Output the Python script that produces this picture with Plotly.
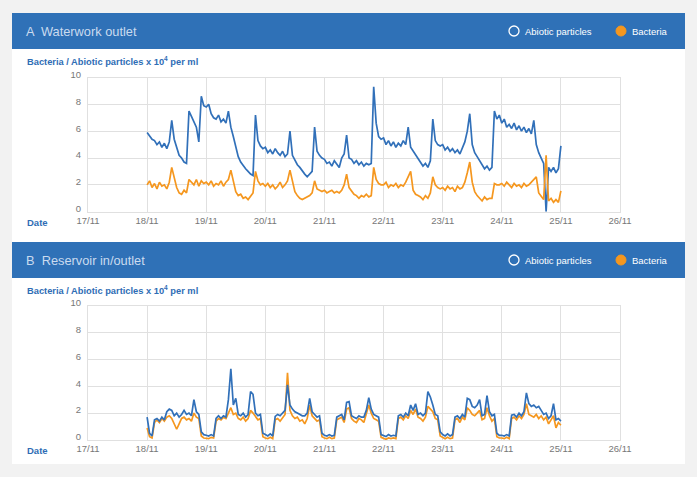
import plotly.graph_objects as go
import pandas as pd

# ---------------- data (hourly readings, 18/11 00:00 -> 25/11 00:00) ----------------
start_time = "2016-11-18 00:00"
n_points = 169

waterwork_abiotic = [
    5.9, 5.6, 5.4, 5.3, 5.0, 5.2, 4.8, 5.1, 4.7, 5.2, 6.8, 5.4, 4.7, 4.2, 4.0, 3.7, 3.6, 7.5, 7.1, 6.7, 6.3, 5.2, 8.6, 7.9,
    7.8, 8.0, 7.3, 7.0, 6.9, 7.2, 6.7, 6.9, 6.6, 7.5, 6.3, 5.6, 4.8, 4.1, 3.7, 3.4, 3.2, 3.0, 2.8, 2.7, 7.2, 5.3, 4.9, 4.7,
    4.8, 4.4, 4.6, 4.3, 4.7, 4.4, 4.2, 4.5, 4.1, 4.3, 6.0, 4.2, 3.8, 3.5, 3.3, 3.0, 2.8, 2.6, 2.8, 3.0, 6.3, 4.5, 4.2, 4.0,
    3.9, 3.6, 3.7, 3.4, 3.8, 3.5, 3.3, 4.0, 4.3, 5.7, 4.0, 3.9, 3.6, 3.8, 3.5, 3.7, 3.4, 3.6, 3.5, 3.6, 9.3, 6.6, 5.6, 5.4,
    5.5, 5.0, 5.3, 4.9, 5.2, 4.8, 5.1, 4.9, 5.3, 5.0, 6.3, 4.8, 4.5, 4.2, 3.9, 3.7, 3.4, 3.6, 3.3, 3.8, 6.9, 5.3, 5.0, 4.9,
    5.0, 4.6, 4.8, 4.5, 4.7, 4.4, 4.6, 4.3, 4.7, 5.2, 6.0, 7.3, 5.0, 4.4, 4.1, 3.8, 3.5, 3.2, 3.4, 3.1, 3.3, 7.5, 6.9, 7.2,
    6.6, 6.9, 6.3, 6.5, 6.2, 6.6, 6.1, 6.4, 6.0, 6.3, 5.9, 6.2, 5.8, 6.8, 5.0, 4.4, 4.0, 3.6, 0.0, 3.3, 3.0, 3.3, 2.9, 3.2,
    4.9,
]
waterwork_bacteria = [
    2.0, 2.3, 1.8, 2.1, 1.7, 2.2, 1.9, 2.0, 1.7, 2.2, 3.3, 2.6, 1.8, 1.4, 1.3, 1.6, 1.4, 2.4, 2.2, 2.0, 2.4, 1.9, 2.3, 2.1,
    2.2, 2.0, 2.3, 1.9, 2.1, 2.0, 2.3, 1.9, 2.2, 2.4, 3.1, 2.2, 1.5, 1.2, 1.3, 1.0, 1.1, 0.9, 1.2, 1.4, 3.0, 2.3, 2.0, 2.1,
    1.9, 2.1, 1.8, 2.0, 1.7, 1.9, 2.2, 1.8, 2.0, 2.3, 3.1, 2.2, 1.5, 1.2, 1.0, 0.9, 1.0, 1.1, 1.2, 1.4, 2.3, 1.7, 1.6, 1.5,
    1.6, 1.4, 1.5, 1.6, 1.4, 1.5, 1.4, 1.6, 2.0, 2.8, 1.8, 1.5, 1.3, 1.2, 1.0, 1.2, 1.1, 1.3, 1.1, 1.2, 3.3, 2.4, 2.1, 2.0,
    2.0, 2.2, 1.8, 2.0, 1.9, 2.1, 1.8, 2.0, 1.9, 2.2, 2.6, 3.0, 1.6, 1.3, 1.2, 1.1, 0.9, 1.2, 1.0, 1.4, 2.6, 2.0, 1.8, 1.7,
    1.8, 1.6, 1.9, 1.7, 1.8, 1.5, 1.9, 1.7, 1.8, 2.2, 2.9, 3.7, 2.2, 1.5, 1.2, 1.0, 0.8, 1.1, 0.9, 1.0, 1.0, 2.1, 2.0, 2.0,
    2.1, 1.9, 2.2, 2.0, 1.8, 2.1, 1.9, 2.0, 1.8, 2.1, 1.9, 2.0, 2.2, 2.4, 2.6, 1.4, 1.1, 0.9, 4.2, 0.8, 1.0, 0.7, 0.9, 0.7,
    1.55,
]
reservoir_abiotic = [
    1.7, 0.5, 0.3, 1.5, 1.6, 1.4, 1.7, 1.5, 2.1, 2.3, 2.2, 1.8, 2.0, 1.7, 1.9, 2.2, 1.9, 2.0, 1.8, 3.0, 2.1, 1.9, 0.6, 0.4,
    0.35, 0.3, 0.4, 0.3, 1.6, 1.8, 1.6, 1.8, 1.7, 3.0, 5.3, 2.6, 3.1, 1.9, 1.8, 2.0, 1.7, 1.9, 3.6, 3.4, 2.0, 1.8, 1.9, 0.5,
    0.4, 0.3, 0.45, 0.3, 1.75, 1.9, 1.8, 2.0, 2.2, 4.1, 2.6, 2.3, 2.1, 2.0, 1.9, 1.8, 1.8, 2.0, 3.1, 2.1, 1.9, 1.7, 1.8, 0.5,
    0.35, 0.3, 0.4, 0.3, 0.35, 1.7, 1.8, 1.9, 1.5, 2.8, 2.85, 1.8, 1.7, 1.6, 1.8, 1.7, 1.7, 2.2, 3.15, 2.3, 1.9, 1.8, 1.7, 0.4,
    0.35, 0.25, 0.4, 0.3, 0.35, 0.3, 1.8, 1.9, 1.7, 2.0, 1.8, 2.6, 2.2, 2.7, 1.9, 2.0, 1.8, 2.0, 3.6, 3.2, 2.6, 1.9, 1.8, 0.6,
    0.4, 0.3, 0.45, 0.3, 0.4, 1.7, 1.8, 1.6, 1.9, 1.7, 3.1, 3.0, 2.5, 2.4, 2.6, 3.0, 1.8, 1.9, 3.3, 2.1, 1.8, 1.9, 0.5, 0.35,
    0.35, 0.3, 0.4, 0.3, 1.85, 1.9, 1.7, 2.0, 1.8, 2.1, 3.5, 2.7, 2.5, 2.6, 2.4, 2.5, 2.2, 1.9, 2.0, 1.6, 1.8, 2.7, 1.5, 1.6,
    1.4,
]
reservoir_bacteria = [
    0.9, 0.25, 0.15, 1.3, 1.5, 1.3, 1.6, 1.4, 1.7, 1.8, 1.6, 1.2, 0.8, 1.2, 1.6, 1.7, 1.5, 1.6, 1.4, 2.0, 1.7, 1.6, 0.3, 0.15,
    0.15, 0.1, 0.2, 0.15, 1.4, 1.6, 1.5, 1.7, 1.6, 2.0, 2.4, 1.9, 2.0, 1.6, 1.5, 1.7, 1.4, 1.6, 2.2, 2.0, 1.7, 1.5, 1.6, 0.25,
    0.15, 0.1, 0.2, 0.1, 1.5, 1.6, 1.4, 1.7, 1.9, 5.0, 2.2, 1.8, 1.6, 1.7, 1.4, 1.5, 1.2, 1.6, 2.6, 1.8, 1.6, 1.4, 1.5, 0.25,
    0.15, 0.1, 0.2, 0.1, 0.15, 1.5, 1.6, 1.7, 1.3, 2.3, 2.4, 1.6, 1.4, 1.3, 1.6, 1.5, 1.3, 1.9, 2.6, 2.0, 1.6, 1.5, 1.4, 0.2,
    0.1, 0.05, 0.15, 0.1, 0.15, 0.1, 1.6, 1.7, 1.5, 1.8, 1.6, 2.2, 1.9, 2.3, 1.7, 1.6, 1.4, 1.7, 2.5, 2.3, 2.1, 1.6, 1.5, 0.3,
    0.2, 0.1, 0.2, 0.1, 0.15, 1.5, 1.6, 1.3, 1.7, 1.5, 2.4, 2.2, 1.9, 1.8, 2.0, 2.2, 1.5, 1.6, 2.4, 1.8, 1.4, 1.6, 0.25, 0.15,
    0.15, 0.1, 0.2, 0.1, 1.6, 1.7, 1.5, 1.8, 1.6, 1.9, 2.7, 1.9, 1.8, 1.7, 1.9, 1.6, 1.8, 1.5, 1.7, 1.2, 1.5, 1.8, 0.9, 1.3,
    1.1,
]

x_range = ["2016-11-17", "2016-11-26"]
y_ticks = [0, 2, 4, 6, 8, 10]
panel_titles = ["A  Waterwork outlet", "B  Reservoir in/outlet"]
legend_names = ["Abiotic particles", "Bacteria"]
y_title = "Bacteria / Abiotic particles x 10<sup>4</sup> per ml"
x_title = "Date"

times = pd.date_range(start_time, periods=n_points, freq="h")

# ---------------- styling ----------------
W, H = 697, 477
BLUE = "#2f71b7"
LINE_BLUE = "#3170b9"
ORANGE = "#f5971f"
GRID = "#e0e0e0"
FONT = "Liberation Sans, Arial, sans-serif"


def px(x):
    return x / W


def py(y):
    return 1 - y / H


fig = go.Figure()

panels = [
    ("x", "y", waterwork_abiotic, waterwork_bacteria, False),
    ("x2", "y2", reservoir_abiotic, reservoir_bacteria, True),
]
for xax, yax, abio, bact, abio_on_top in panels:
    t_abio = go.Scatter(x=times, y=abio, mode="lines", name=legend_names[0],
                        line=dict(color=LINE_BLUE, width=1.7), xaxis=xax, yaxis=yax, showlegend=False)
    t_bact = go.Scatter(x=times, y=bact, mode="lines", name=legend_names[1],
                        line=dict(color=ORANGE, width=1.7), xaxis=xax, yaxis=yax, showlegend=False)
    if abio_on_top:
        fig.add_trace(t_bact)
        fig.add_trace(t_abio)
    else:
        fig.add_trace(t_abio)
        fig.add_trace(t_bact)

# panel geometry in pixels
panel_geo = [
    dict(header=13, plot_top=77.5, plot_bot=211.7, ylab=61, xlab=222),
    dict(header=242, plot_top=305.5, plot_bot=440, ylab=290, xlab=450),
]

axis_common = dict(showgrid=True, gridcolor=GRID, gridwidth=1, showline=True, linecolor=GRID,
                   mirror=True, zeroline=False, ticks="", automargin=False,
                   tickfont=dict(family=FONT, size=9.5, color="#777777"))

layout = dict(
    template="none",
    width=W, height=H, margin=dict(l=0, r=0, t=0, b=0, pad=0, autoexpand=False),
    paper_bgcolor="#f2f2f2", plot_bgcolor="white", showlegend=False,
    font=dict(family=FONT),
)
for i, g in enumerate(panel_geo):
    xa = "xaxis" if i == 0 else "xaxis2"
    ya = "yaxis" if i == 0 else "yaxis2"
    layout[xa] = dict(axis_common, type="date", range=x_range, dtick=86400000, tick0="2016-11-17",
                      tickformat="%d/%m", domain=[px(88), px(620)],
                      anchor="y" if i == 0 else "y2")
    layout[ya] = dict(axis_common, range=[0, 10], tickvals=y_ticks,
                      domain=[py(g["plot_bot"]), py(g["plot_top"])],
                      ticklabelshift=-3, ticklabelstandoff=4,
                      anchor="x" if i == 0 else "x2")

fig.update_layout(**layout)

shapes = [dict(type="rect", xref="paper", yref="paper", x0=px(12), x1=px(685), y0=py(464), y1=py(13),
               fillcolor="white", line=dict(width=0), layer="below")]
annotations = []
for i, g in enumerate(panel_geo):
    h = g["header"]
    shapes.append(dict(type="rect", xref="paper", yref="paper", x0=px(12), x1=px(685), y0=py(h + 36), y1=py(h),
                       fillcolor=BLUE, line=dict(width=0), layer="below"))
    cy = h + 18
    shapes.append(dict(type="circle", xref="paper", yref="paper", x0=px(509), x1=px(519), y0=py(cy + 5),
                       y1=py(cy - 5), fillcolor="rgba(0,0,0,0)", line=dict(color="white", width=1.3)))
    shapes.append(dict(type="circle", xref="paper", yref="paper", x0=px(616), x1=px(626), y0=py(cy + 5),
                       y1=py(cy - 5), fillcolor=ORANGE, line=dict(color=ORANGE, width=1)))
    annotations.append(dict(text=panel_titles[i], x=px(24), y=py(cy), xref="paper", yref="paper", xanchor="left",
                            yanchor="middle", showarrow=False, font=dict(family=FONT, size=12.8, color="#cadbef")))
    annotations.append(dict(text=legend_names[0], x=px(523), y=py(cy), xref="paper", yref="paper", xanchor="left",
                            yanchor="middle", showarrow=False, font=dict(family=FONT, size=9.5, color="white")))
    annotations.append(dict(text=legend_names[1], x=px(630), y=py(cy), xref="paper", yref="paper", xanchor="left",
                            yanchor="middle", showarrow=False, font=dict(family=FONT, size=9.5, color="white")))
    annotations.append(dict(text="<b>" + y_title + "</b>", x=px(25), y=py(g["ylab"]), xref="paper", yref="paper",
                            xanchor="left", yanchor="middle", showarrow=False,
                            font=dict(family=FONT, size=9.3, color="#2f6db5")))
    annotations.append(dict(text="<b>" + x_title + "</b>", x=px(25), y=py(g["xlab"]), xref="paper", yref="paper",
                            xanchor="left", yanchor="middle", showarrow=False,
                            font=dict(family=FONT, size=9.5, color="#2f6db5")))

fig.update_layout(shapes=shapes, annotations=annotations)
fig.write_html("out.html", config={"displayModeBar": False},
               post_script="document.body.style.margin='0';document.body.style.overflow='hidden';")
